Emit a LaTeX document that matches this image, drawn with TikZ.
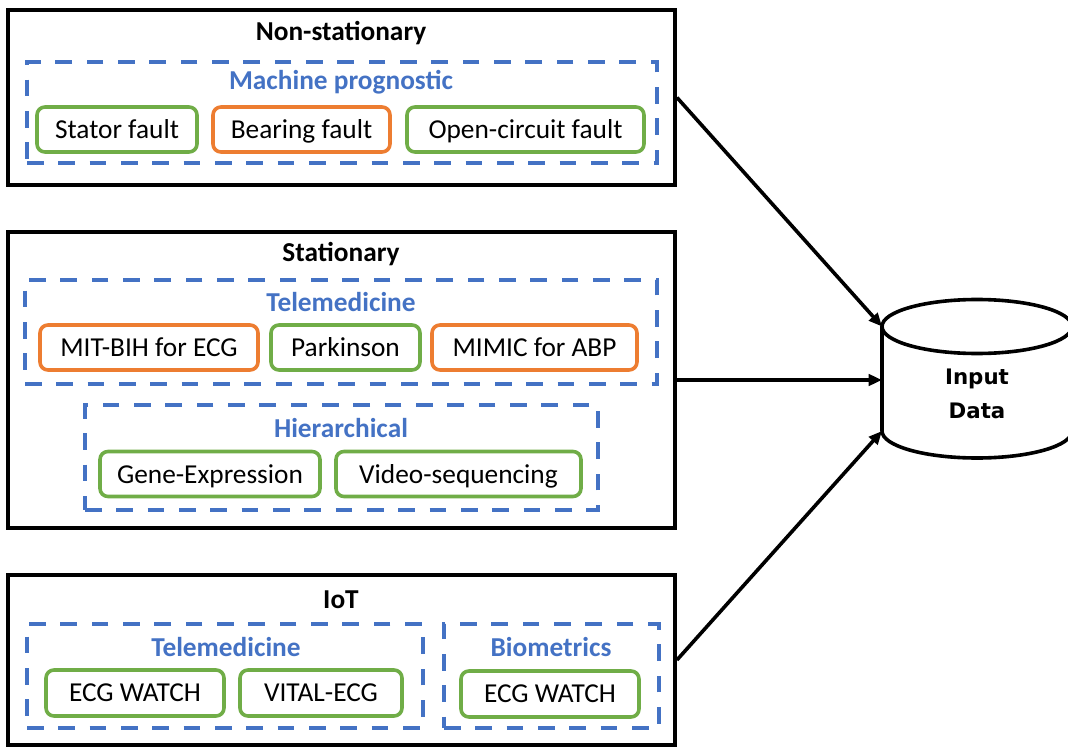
\documentclass[tikz,border=0pt]{standalone}
\usepackage{fontspec}
\setmainfont{Carlito}
\newfontfamily\dejavu{DejaVu Sans}
\usetikzlibrary{arrows.meta}
\definecolor{mygreen}{HTML}{70AD47}
\definecolor{myorange}{HTML}{ED7D31}
\definecolor{myblue}{HTML}{4472C4}
\tikzset{
  outerbox/.style={draw=black, line width=2.9pt, minimum width=500.25pt, inner sep=0pt},
  groupbox/.style={draw=myblue, line width=2.7pt, dash pattern=on 12.5pt off 11pt, inner sep=0pt},
  itembox/.style={rounded corners=6pt, line width=2.7pt, fill=white, inner sep=0pt, minimum height=33.75pt, text depth=0pt, font=\fontsize{20.5}{24}\selectfont},
  gbox/.style={itembox, draw=mygreen},
  obox/.style={itembox, draw=myorange},
  maintitle/.style={font=\fontsize{20.5}{24}\selectfont\bfseries, inner sep=0pt},
  grouptitle/.style={font=\fontsize{20.5}{24}\selectfont\bfseries, text=myblue, inner sep=0pt},
  conn/.style={line width=2.7pt, -{Triangle[length=10pt,width=8.5pt]}}
}
\begin{document}
\begin{tikzpicture}[x=0.75pt, y=-0.75pt]
\useasboundingbox (0,0) rectangle (1068,749);

% Non-stationary
\node[outerbox, minimum height=131.25pt] (ns) at (341.5,97.5) {};
\node[maintitle] (nst) at (341,33) {Non-stationary};
\node[groupbox, minimum width=472.5pt, minimum height=75.75pt] (mp) at (342,112.5) {};
\node[grouptitle] (mpt) at (341,82) {Machine prognostic};
\node[gbox, minimum width=120pt] (stator) at (117,129.5) {Stator fault};
\node[obox, minimum width=132.75pt] (bearing) at (301.5,129.5) {Bearing fault};
\node[gbox, minimum width=177.75pt] (open) at (525.5,129.5) {Open-circuit fault};

% Stationary
\node[outerbox, minimum height=222pt] (st) at (341.5,380) {};
\node[maintitle] (stt) at (341,254) {Stationary};
\node[groupbox, minimum width=474pt, minimum height=78pt] (tm1) at (341,332) {};
\node[grouptitle] (tm1t) at (341,302) {Telemedicine};
\node[obox, minimum width=163.5pt] (mit) at (149,347.5) {MIT-BIH for ECG};
\node[gbox, minimum width=111.75pt] (park) at (345.5,347.5) {Parkinson};
\node[obox, minimum width=153.75pt] (mimic) at (534.5,347.5) {MIMIC for ABP};
\node[groupbox, minimum width=384.75pt, minimum height=78.75pt] (hier) at (341.5,457.5) {};
\node[grouptitle] (hiert) at (341,428) {Hierarchical};
\node[gbox, minimum width=165pt] (gene) at (210,474) {Gene-Expression};
\node[gbox, minimum width=183.75pt] (video) at (458.5,474) {Video-sequencing};

% IoT
\node[outerbox, minimum height=127.5pt] (iot) at (341.5,660) {};
\node[maintitle] (iott) at (341,600) {IoT};
\node[groupbox, minimum width=297pt, minimum height=78pt] (tm2) at (225,676) {};
\node[grouptitle] (tm2t) at (226,647) {Telemedicine};
\node[gbox, minimum width=133.5pt, minimum height=34.5pt] (ecg1) at (135,693) {ECG WATCH};
\node[gbox, minimum width=121.5pt, minimum height=34.5pt] (vital) at (321,693) {VITAL-ECG};
\node[groupbox, minimum width=161.25pt, minimum height=78pt] (bio) at (551.5,676) {};
\node[grouptitle] (biot) at (551,647) {Biometrics};
\node[gbox, minimum width=133.5pt, minimum height=34.5pt] (ecg2) at (550,694) {ECG WATCH};

% Cylinder
\draw[line width=2.7pt, fill=white] (882,326.5) -- (882,431)
  arc[start angle=180, end angle=360, x radius=71.25pt, y radius=20.25pt]
  -- (1072,326.5);
\draw[line width=2.7pt] (977,326.5) ellipse [x radius=71.25pt, y radius=20.25pt];
\node[align=center, font=\dejavu\fontsize{16}{25}\selectfont\bfseries, inner sep=0pt] (input) at (977,394) {Input\\Data};
\coordinate (cylTL) at (882,326.5);
\coordinate (cylW) at (882,380);
\coordinate (cylBL) at (882,431);

% Connectors
\draw[conn] (ns.east) -- (cylTL);
\draw[conn] (st.east) -- (cylW);
\draw[conn] (iot.east) -- (cylBL);
\end{tikzpicture}
\end{document}
